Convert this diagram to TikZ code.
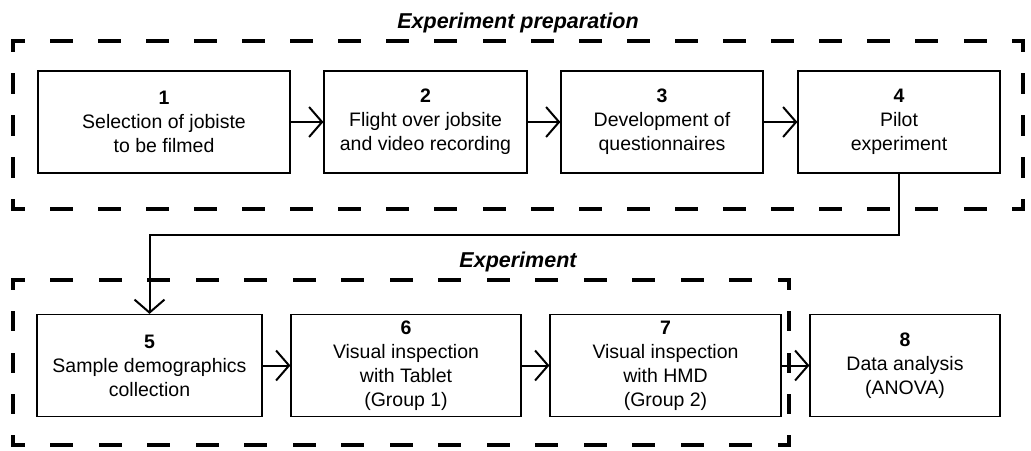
\documentclass[tikz,border=0pt]{standalone}
\usepackage{fontspec}
\setmainfont{Liberation Sans}
\usetikzlibrary{arrows.meta}

\begin{document}
\begin{tikzpicture}[x=1pt, y=-1pt,
  stage/.style={draw, line width=1.2pt, align=center, inner sep=0pt,
    minimum height=102pt, font=\fontsize{19.5}{24}\selectfont},
  flow/.style={line width=2pt, -{Straight Barb[length=13pt, width=30pt]}},
  % 虚线：每条边单独给出 on/off/phase，使四角都是半截短划
  side/.style n args={3}{line width=3.3pt, line cap=rect,
    dash pattern=on #1pt off #2pt, dash phase=#3pt},
  heading/.style={anchor=base, font=\fontsize{21.5}{26}\selectfont\bfseries\itshape}]
  \useasboundingbox (0,0) rectangle (1031,450);

  % 两个阶段的虚线框
  \coordinate (pA) at (13,41);
  \coordinate (pB) at (1023,41);
  \coordinate (pC) at (1023,209);
  \coordinate (pD) at (13,209);
  \draw[side={19.7}{28.4}{9.85}] (pA) -- (pB);
  \draw[side={19.7}{28.4}{9.85}] (pD) -- (pC);
  \draw[side={17.7}{24.3}{8.85}] (pA) -- (pD);
  \draw[side={17.7}{24.3}{8.85}] (pB) -- (pC);

  \coordinate (qA) at (13,280);
  \coordinate (qB) at (789,280);
  \coordinate (qC) at (789,445);
  \coordinate (qD) at (13,445);
  \draw[side={19.7}{28.8}{9.85}] (qA) -- (qB);
  \draw[side={19.7}{28.8}{9.85}] (qD) -- (qC);
  \draw[side={16.7}{24.55}{8.35}] (qA) -- (qD);
  \draw[side={16.7}{24.55}{8.35}] (qB) -- (qC);

  \node[heading] (prep) at (518,28)  {Experiment preparation};
  \node[heading] (expt) at (518,267) {Experiment};

  % 第一行：准备
  \node[stage, minimum width=252pt] (b1) at (164,122)   {{\bfseries 1}\\Selection of jobiste\\to be filmed};
  \node[stage, minimum width=203pt] (b2) at (425.5,122) {{\bfseries 2}\\Flight over jobsite\\and video recording};
  \node[stage, minimum width=202pt] (b3) at (662,122)   {{\bfseries 3}\\Development of\\questionnaires};
  \node[stage, minimum width=202pt] (b4) at (899,122)   {{\bfseries 4}\\Pilot\\experiment};

  % 第二行：实验 + 分析
  \node[stage, minimum width=225pt] (b5) at (149.5,365.5) {{\bfseries 5}\\Sample demographics\\collection};
  \node[stage, minimum width=230pt] (b6) at (406,365.5)   {{\bfseries 6}\\Visual inspection\\with Tablet\\(Group 1)};
  \node[stage, minimum width=231pt] (b7) at (665.5,365.5) {{\bfseries 7}\\Visual inspection\\with HMD\\(Group 2)};
  \node[stage, minimum width=190pt] (b8) at (905,365.5)   {{\bfseries 8}\\Data analysis\\(ANOVA)};

  % 箭头
  \foreach \a/\b in {b1/b2, b2/b3, b3/b4, b5/b6, b6/b7, b7/b8} {
    \draw[flow] (\a.east) -- (\b.west);
  }
  % 4 -> 5 折线
  \coordinate (knee) at (0,235);
  \draw[flow] (b4.south) |- (b5.north |- knee) -- (b5.north);
\end{tikzpicture}
\end{document}
